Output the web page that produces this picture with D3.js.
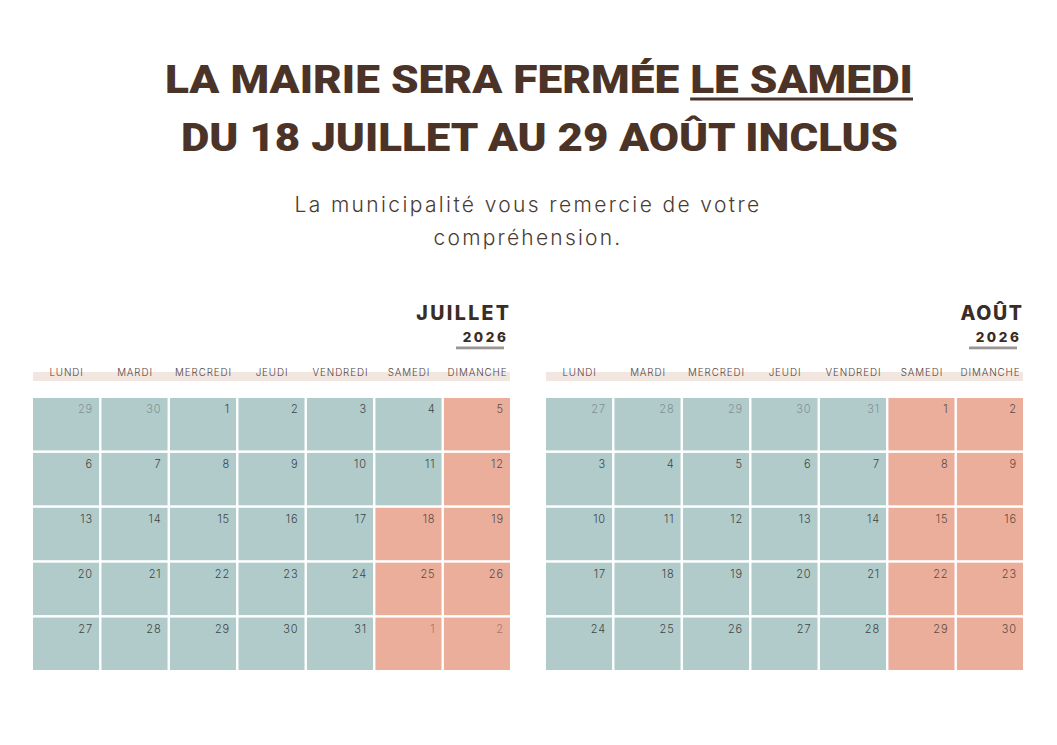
<!DOCTYPE html>
<html>
<head>
<meta charset="utf-8">
<script src="https://cdn.jsdelivr.net/npm/d3@7"></script>
<style>
  html, body { margin: 0; padding: 0; background: #fff; }
  svg { display: block; }
</style>
</head>
<body>
<svg id="chart"></svg>
<script>
// --- Data ---
const titleLine1 = "LA MAIRIE SERA FERMÉE ";
const titleLine1U = "LE SAMEDI";
const titleLine2 = "DU 18 JUILLET AU 29 AOÛT INCLUS";
const subtitleLines = ["La municipalité vous remercie de votre", "compréhension."];

const weekdays = ["LUNDI", "MARDI", "MERCREDI", "JEUDI", "VENDREDI", "SAMEDI", "DIMANCHE"];
const monthNames = ["JUILLET", "AOÛT"];
const yearLabel = "2026";

// day numbers, 5 weeks x 7 days, Monday first
const julyDays = [29,30,1,2,3,4,5, 6,7,8,9,10,11,12, 13,14,15,16,17,18,19, 20,21,22,23,24,25,26, 27,28,29,30,31,1,2];
const julyInMonth = [0,0,1,1,1,1,1, 1,1,1,1,1,1,1, 1,1,1,1,1,1,1, 1,1,1,1,1,1,1, 1,1,1,1,1,0,0];
const julyClosed  = [0,0,0,0,0,0,1, 0,0,0,0,0,0,1, 0,0,0,0,0,1,1, 0,0,0,0,0,1,1, 0,0,0,0,0,1,1];

const augDays = [27,28,29,30,31,1,2, 3,4,5,6,7,8,9, 10,11,12,13,14,15,16, 17,18,19,20,21,22,23, 24,25,26,27,28,29,30];
const augInMonth = [0,0,0,0,0,1,1, 1,1,1,1,1,1,1, 1,1,1,1,1,1,1, 1,1,1,1,1,1,1, 1,1,1,1,1,1,1];
const augClosed  = [0,0,0,0,0,1,1, 0,0,0,0,0,1,1, 0,0,0,0,0,1,1, 0,0,0,0,0,1,1, 0,0,0,0,0,1,1];

// --- Layout ---
const W = 1057, H = 745;
const brown = "#4b3427";
const teal = "#b1cbcb", salmon = "#ebae9b";
const sans = "Inter, 'Open Sans', sans-serif";

const svg = d3.select("#chart").attr("width", W).attr("height", H);
svg.append("rect").attr("width", W).attr("height", H).attr("fill", "#fff");

// fit a text element to a target width by letter-spacing
function fitWidth(sel, target) {
  const node = sel.node();
  const n = node.getNumberOfChars();
  const w = node.getComputedTextLength();
  sel.style("letter-spacing", ((target - w) / n) + "px");
}

// --- Title ---
const t1 = svg.append("text")
  .attr("x", 539).attr("y", 93)
  .attr("text-anchor", "middle")
  .style("font-family", "Roboto, sans-serif")
  .style("font-weight", 900)
  .style("font-size", "39px")
  .style("fill", brown);
t1.append("tspan").text(titleLine1);
t1.append("tspan").text(titleLine1U);
t1.attr("textLength", 748).attr("lengthAdjust", "spacingAndGlyphs");

// underline below "LE SAMEDI", placed from the measured text
{
  const node = t1.node();
  const n = node.getNumberOfChars();
  const start = node.getStartPositionOfChar(titleLine1.length).x;
  const endC = node.getEndPositionOfChar(n - 1).x;
  svg.append("line")
    .attr("x1", start).attr("x2", endC)
    .attr("y1", 99).attr("y2", 99)
    .attr("stroke", brown).attr("stroke-width", 3);
}

svg.append("text")
  .attr("x", 539.5).attr("y", 151)
  .attr("text-anchor", "middle")
  .attr("textLength", 717).attr("lengthAdjust", "spacingAndGlyphs")
  .style("font-family", "Roboto, sans-serif")
  .style("font-weight", 900)
  .style("font-size", "39px")
  .style("fill", brown)
  .text(titleLine2);

// --- Subtitle ---
const subW = [467, 189];
subtitleLines.forEach((s, i) => {
  const t = svg.append("text")
    .attr("x", 528).attr("y", 212 + i * 33)
    .attr("text-anchor", "middle")
    .style("font-family", sans)
    .style("font-weight", 350)
    .style("font-size", "21px")
    .style("fill", "#4a3b31")
    .text(s);
  fitWidth(t, subW[i]);
});

// --- Calendars ---
const months = [
  { name: monthNames[0], days: julyDays, inMonth: julyInMonth, closed: julyClosed, x0: 33, x1: 510, nameW: 95 },
  { name: monthNames[1], days: augDays, inMonth: augInMonth, closed: augClosed, x0: 546, x1: 1023, nameW: 63 }
];

const y = d3.scaleBand().domain(d3.range(5)).range([398, 670]).paddingInner(0.045);

months.forEach(m => {
  const g = svg.append("g");
  const x = d3.scaleBand().domain(weekdays).range([m.x0, m.x1]).paddingInner(0.035);

  // month + year header (trailing letter-spacing accounted for)
  const mt = g.append("text")
    .attr("text-anchor", "end")
    .attr("y", 319.5)
    .style("font-family", sans)
    .style("font-weight", 800)
    .style("font-size", "19.5px")
    .style("fill", "#3b2c24")
    .text(m.name);
  fitWidth(mt, m.nameW);
  const lsM = parseFloat(mt.style("letter-spacing"));
  mt.attr("x", m.x1 - 1 + lsM);

  const yt = g.append("text")
    .attr("text-anchor", "end")
    .attr("y", 342)
    .style("font-family", sans)
    .style("font-weight", 800)
    .style("font-size", "13.5px")
    .style("fill", "#3b2c24")
    .text(yearLabel);
  fitWidth(yt, 46);
  const lsY = parseFloat(yt.style("letter-spacing"));
  yt.attr("x", m.x1 - 4 + lsY);

  g.append("rect")
    .attr("x", m.x1 - 54).attr("y", 346.5)
    .attr("width", 48).attr("height", 2.8)
    .attr("fill", "#9b9593");

  // weekday band
  g.append("rect")
    .attr("x", m.x0).attr("y", 372)
    .attr("width", m.x1 - m.x0).attr("height", 9)
    .attr("fill", "#f1e6e0");

  g.selectAll("text.wd")
    .data(weekdays)
    .join("text")
    .attr("class", "wd")
    .attr("x", d => x(d) + x.bandwidth() / 2 + 0.5)
    .attr("y", 375.5)
    .attr("text-anchor", "middle")
    .style("font-family", sans)
    .style("font-weight", 300)
    .style("font-size", "9.8px")
    .style("letter-spacing", "0.9px")
    .style("fill", "#4f433c")
    .text(d => d);

  const cells = m.days.map((d, i) => ({
    day: d,
    col: weekdays[i % 7],
    row: Math.floor(i / 7),
    inMonth: m.inMonth[i],
    closed: m.closed[i]
  }));

  g.selectAll("rect.cell")
    .data(cells)
    .join("rect")
    .attr("class", "cell")
    .attr("x", d => x(d.col))
    .attr("y", d => y(d.row))
    .attr("width", x.bandwidth())
    .attr("height", y.bandwidth())
    .attr("fill", d => d.closed ? salmon : teal);

  g.selectAll("text.num")
    .data(cells)
    .join("text")
    .attr("class", "num")
    .attr("x", d => x(d.col) + x.bandwidth() - 6)
    .attr("y", d => y(d.row) + 15)
    .attr("text-anchor", "end")
    .style("font-family", sans)
    .style("font-weight", 350)
    .style("font-size", "11px")
    .style("letter-spacing", "0.9px")
    .style("fill", d => d.inMonth ? (d.closed ? "#5e4a42" : "#3f4646") : (d.closed ? "#9c7a70" : "#819192"))
    .text(d => d.day);
});
</script>
</body>
</html>
